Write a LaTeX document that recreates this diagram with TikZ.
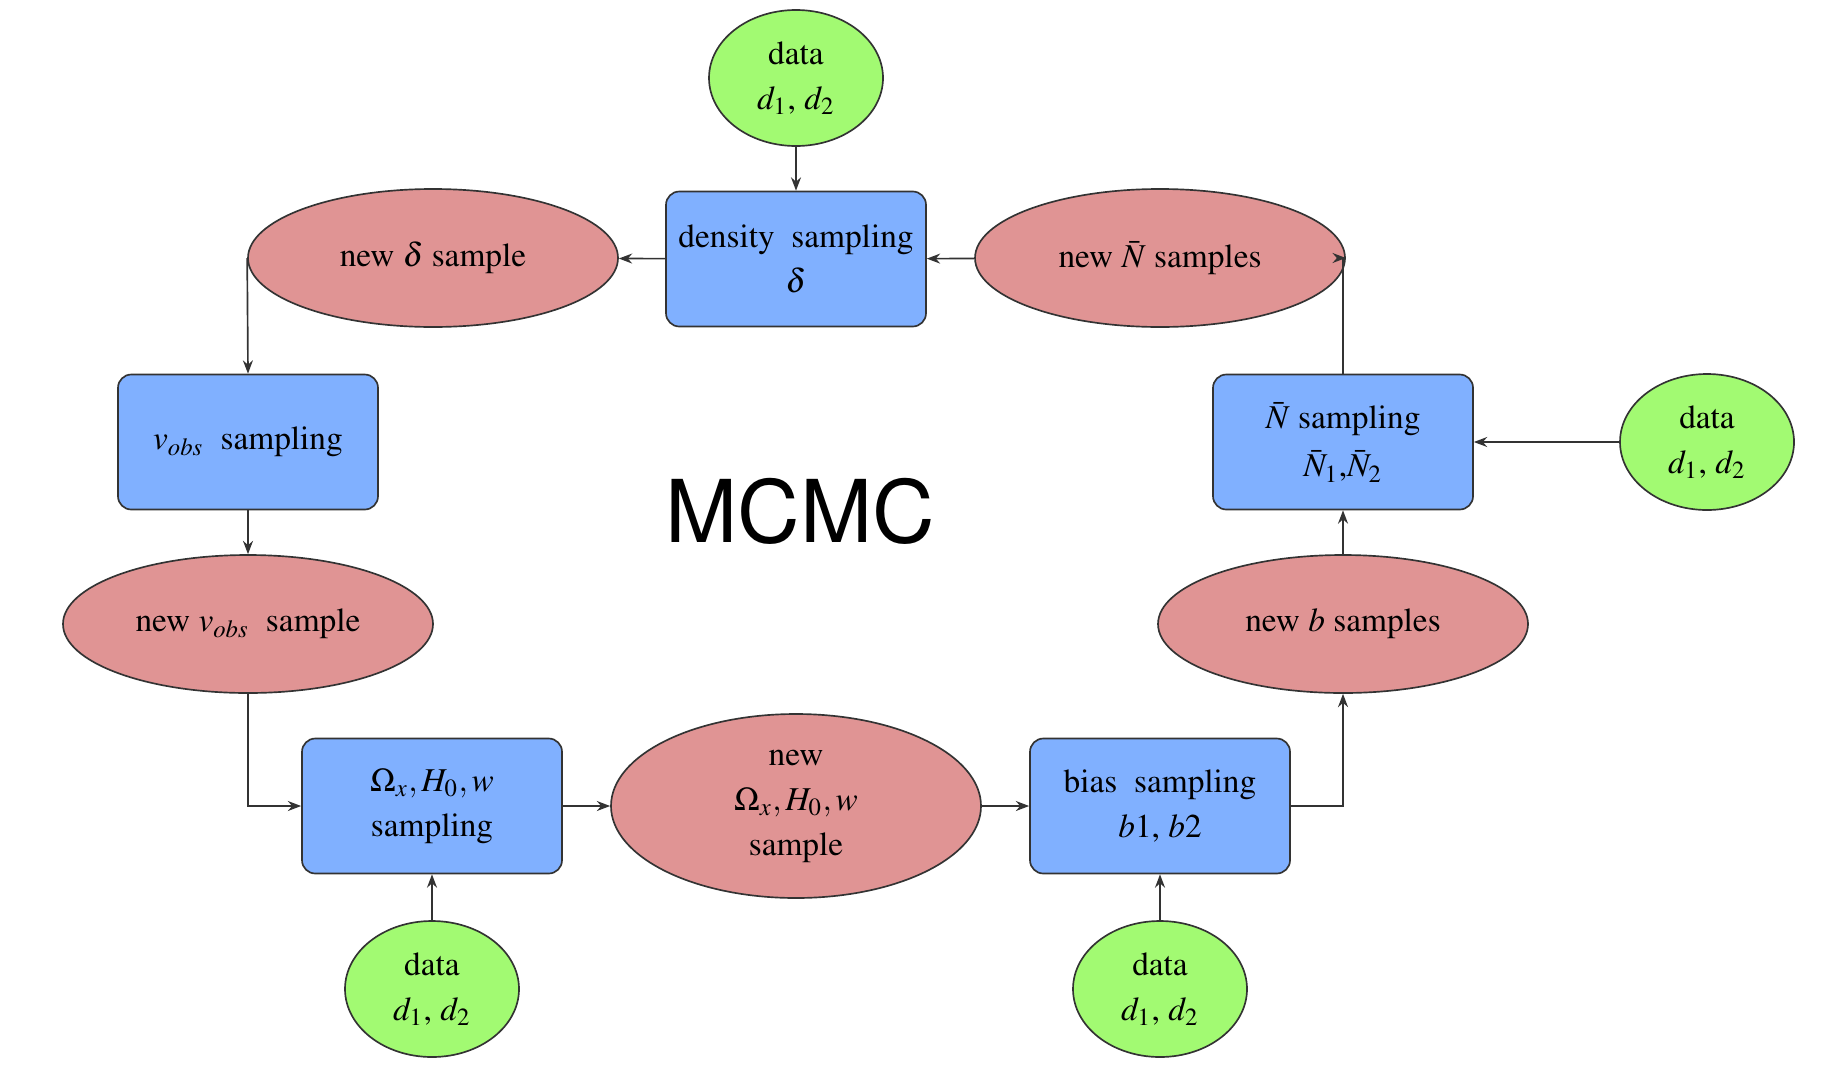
\documentclass[tikz,border=0pt]{standalone}
\usepackage[T1]{fontenc}
\usepackage{mathptmx}
\usetikzlibrary{shapes.geometric,arrows.meta}
\definecolor{boxblue}{RGB}{128,176,255}
\definecolor{ellred}{RGB}{224,148,148}
\definecolor{datagreen}{RGB}{162,250,114}
\begin{document}
\begin{tikzpicture}[x=0.3pt,y=-0.3pt,
  every node/.style={font=\fontsize{10}{13.5}\selectfont, align=center, inner sep=0pt},
  sampbox/.style={draw=black!80, fill=boxblue, rounded corners=4pt, minimum width=78pt, minimum height=40.5pt, line width=0.5pt},
  newell/.style={ellipse, draw=black!80, fill=ellred, minimum width=111pt, minimum height=41.4pt, line width=0.5pt},
  dataell/.style={ellipse, draw=black!80, fill=datagreen, minimum width=52.2pt, minimum height=40.8pt, line width=0.5pt},
  conn/.style={-{Stealth[length=4pt,width=3pt]}, black!80, line width=0.5pt}
]
\useasboundingbox (0,0) rectangle (1823,1065);

\node[dataell] (dtop) at (796,78) {data\\ $d_1$, $d_2$};
\node[sampbox] (dens) at (796,259) {density\ \ sampling\\ $\delta$};
\node[newell] (ndelta) at (433,258) {new $\delta$ sample};
\node[newell] (nN) at (1160,258) {new $\bar{N}$ samples};
\node[sampbox] (vobs) at (248,442) {$v_{obs}$\ \ sampling};
\node[newell] (nvobs) at (248,624) {new $v_{obs}$\ \ sample};
\node[sampbox] (omega) at (432,806) {$\Omega_x, H_0, w$\\ sampling};
\node[newell, minimum height=55.2pt] (nomega) at (796,806) {new\\ $\Omega_x, H_0, w$\\ sample};
\node[sampbox] (bias) at (1160,806) {bias\ \ sampling\\ $b1$, $b2$};
\node[newell] (nb) at (1343,624) {new $b$ samples};
\node[sampbox] (Nbox) at (1343,442) {$\bar{N}$ sampling\\[1pt] $\bar{N}_1$,$\bar{N}_2$};
\node[dataell] (dright) at (1707,442) {data\\ $d_1$, $d_2$};
\node[dataell] (dbl) at (432,989) {data\\ $d_1$, $d_2$};
\node[dataell] (dbr) at (1160,989) {data\\ $d_1$, $d_2$};
\node (mcmc) at (800,512) {\fontfamily{phv}\fontsize{26}{30}\selectfont MCMC};

\draw[conn] (dtop) -- (dens);
\draw[conn] (dens) -- (ndelta);
\draw[conn] (nN) -- (dens);
\draw[conn] (ndelta.west) -- (vobs.north);
\draw[conn] (vobs) -- (nvobs);
\draw[conn] (nvobs.south) |- (omega.west);
\draw[conn] (omega) -- (nomega);
\draw[conn] (nomega) -- (bias);
\draw[conn] (dbl) -- (omega);
\draw[conn] (dbr) -- (bias);
\draw[conn] (bias.east) -| (nb.south);
\draw[conn] (nb) -- (Nbox);
\draw[conn] (dright) -- (Nbox);
\draw[conn] (Nbox.north) |- (nN.east);
\end{tikzpicture}
\end{document}
